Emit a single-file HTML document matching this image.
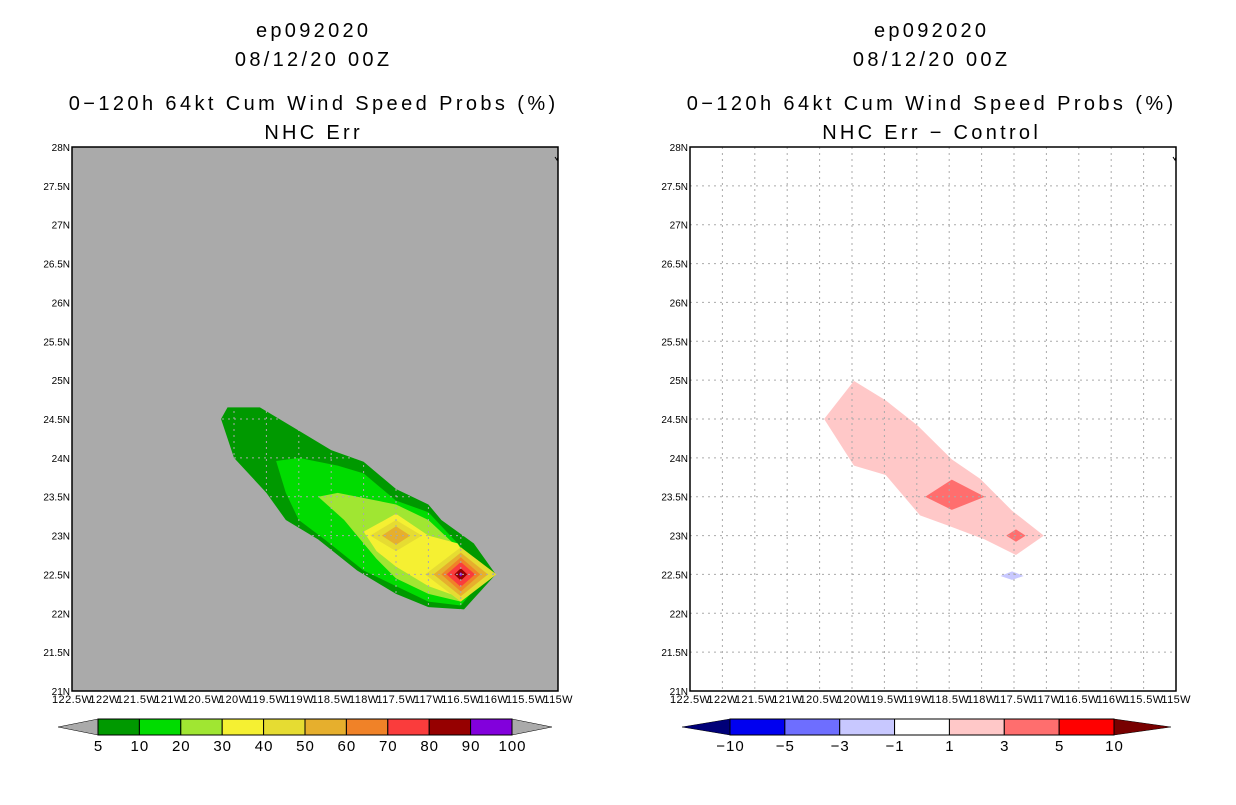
<!DOCTYPE html>
<html><head><meta charset="utf-8"><style>
body{margin:0;background:#fff;width:1236px;height:800px;overflow:hidden}
svg text{font-family:"Liberation Sans",sans-serif}
</style></head><body>
<svg id="root" width="1236" height="800" xmlns="http://www.w3.org/2000/svg"></svg>
<script>
// ---- data ----
const lonTicks=[-122.5,-122,-121.5,-121,-120.5,-120,-119.5,-119,-118.5,-118,-117.5,-117,-116.5,-116,-115.5,-115];
const latTicks=[21,21.5,22,22.5,23,23.5,24,24.5,25,25.5,26,26.5,27,27.5,28];
const leftLevels=['5','10','20','30','40','50','60','70','80','90','100'];
const leftColors=['#009900','#00dc00','#a0e632','#f5f032','#e6dc32','#e6af2d','#f08228','#fa3c3c','#960000','#8200dc'];
const rightLevels=['\u221210','\u22125','\u22123','\u22121','1','3','5','10'];
const rightColors=['#0000f0','#6e6eff','#c8c8ff','#ffffff','#ffc8c8','#ff6e6e','#ff0000'];
const rightEnds=['#000078','#780000'];
// contour polygons [lon,lat] with color index
const leftPolys=[
 {c:0,p:[[-120.1,24.65],[-119.6,24.65],[-119.1,24.4],[-118.5,24.1],[-118.0,23.95],[-117.5,23.6],[-117.0,23.4],[-116.8,23.2],[-116.3,22.9],[-115.96,22.5],[-116.45,22.05],[-117.0,22.08],[-117.5,22.25],[-118.1,22.55],[-118.7,22.95],[-119.2,23.2],[-119.5,23.55],[-120.0,24.0],[-120.2,24.5]]},
 {c:1,p:[[-119.35,23.96],[-119.0,24.0],[-118.4,23.9],[-118.0,23.8],[-117.5,23.45],[-117.0,23.3],[-116.55,22.9],[-116.1,22.5],[-116.5,22.1],[-117.0,22.15],[-117.5,22.35],[-118.0,22.55],[-118.6,22.95],[-119.0,23.2],[-119.2,23.55]]},
 {c:2,p:[[-118.7,23.5],[-118.4,23.55],[-117.5,23.4],[-117.0,23.2],[-116.55,22.85],[-116.2,22.5],[-116.5,22.15],[-117.0,22.25],[-117.5,22.45],[-117.8,22.7],[-118.1,23.0],[-118.3,23.2]]},
 {c:3,p:[[-118.0,23.05],[-117.5,23.28],[-117.0,23.0],[-116.55,22.9],[-116.25,22.5],[-116.5,22.2],[-117.0,22.35],[-117.5,22.6],[-117.8,22.8]]}
];
const leftDiamonds=[
 {c:4,lon:-117.5,lat:23.0,rx:0.4,ry:0.2},{c:5,lon:-117.5,lat:23.0,rx:0.22,ry:0.12},
 {c:4,lon:-116.5,lat:22.5,rx:0.55,ry:0.35},{c:5,lon:-116.5,lat:22.5,rx:0.42,ry:0.28},
 {c:6,lon:-116.5,lat:22.5,rx:0.3,ry:0.22},{c:7,lon:-116.5,lat:22.5,rx:0.22,ry:0.16},
 {c:8,lon:-116.5,lat:22.5,rx:0.1,ry:0.08},{c:9,lon:-116.5,lat:22.5,rx:0.03,ry:0.03}
];
const rightPolys=[
 {c:4,p:[[-120.43,24.5],[-119.97,24.99],[-119.48,24.74],[-118.98,24.41],[-118.46,23.98],[-118.02,23.73],[-117.53,23.32],[-117.04,23.0],[-117.47,22.75],[-117.95,22.95],[-118.49,23.12],[-118.95,23.26],[-119.48,23.78],[-119.97,23.9]]},
 {c:5,p:[[-118.87,23.5],[-118.46,23.72],[-117.95,23.5],[-118.46,23.33]]},
 {c:5,p:[[-117.62,23.0],[-117.47,23.08],[-117.32,23.0],[-117.47,22.92]]},
 {c:2,p:[[-117.71,22.48],[-117.53,22.54],[-117.35,22.48],[-117.53,22.43]]}
];
// ---- helpers ----
const NS='http://www.w3.org/2000/svg', root=document.getElementById('root');
function mk(t,a,parent){const e=document.createElementNS(NS,t);for(const k in a)e.setAttribute(k,a[k]);(parent||root).appendChild(e);return e;}
const PY0=147,PY1=691,PW=486;
function xs(x0){return lon=>x0+(lon+122.5)/7.5*PW;}
function ys(lat){return PY1-(lat-21)/7*(PY1-PY0);}
function txt(x,y,s,size,anchor,name,ls){const t=mk('text',{x:x,y:y,'font-size':size,'text-anchor':anchor||'middle',fill:'#000'});
if(ls){t.setAttribute('letter-spacing',ls);t.setAttribute('x',x+ls/2);}
t.textContent=s;

return t;}

function panel(x0,bg,polys,diamonds,colors,titles,pname){
 const X=xs(x0);
 const g=mk('g',{});
 
 
 const r=mk('rect',{x:x0,y:PY0,width:PW,height:PY1-PY0,fill:bg},g);
 
 
 polys.forEach(o=>{const pl=mk('polygon',{points:o.p.map(q=>X(q[0])+','+ys(q[1])).join(' '),fill:colors[o.c]},g);
  
  });
 diamonds.forEach(d=>{const pts=[[d.lon-d.rx,d.lat],[d.lon,d.lat+d.ry],[d.lon+d.rx,d.lat],[d.lon,d.lat-d.ry]];
  const pl=mk('polygon',{points:pts.map(q=>X(q[0])+','+ys(q[1])).join(' '),fill:colors[d.c]},g);
  
  });
 lonTicks.slice(1,-1).forEach(l=>{const ln=mk('line',{x1:X(l),x2:X(l),y1:PY0,y2:PY1,stroke:'#aaa','stroke-dasharray':'2,4'},g);
  
  });
 latTicks.slice(1,-1).forEach(l=>{const ln=mk('line',{x1:x0,x2:x0+PW,y1:ys(l),y2:ys(l),stroke:'#aaa','stroke-dasharray':'2,4'},g);
  
  });
 const b=mk('rect',{x:x0,y:PY0,width:PW,height:PY1-PY0,fill:'none',stroke:'#000','stroke-width':1.5},g);
 
 
 mk('path',{d:`M${x0+PW-3} ${PY0+10} l2 3 l1 -3`,stroke:'#000',fill:'none','stroke-width':1},g);
 latTicks.forEach(l=>{txt(x0-2,ys(l)+4,(l%1?l.toFixed(1):l)+'N',10,'end','y-tick-label');});
 lonTicks.forEach(l=>{txt(X(l),703,(-l%1?(-l).toFixed(1):-l)+'W',11,'middle','x-tick-label',0.4);});
 const cx=x0+PW/2;
 txt(cx-3,37,titles[0],20,'middle','title-storm',3.3);
 txt(cx-3,66,titles[1],20,'middle','title-date',3.3);
 txt(cx-3,110,titles[2],20,'middle','title-product',3.4);
 txt(cx-3,139,titles[3],20,'middle','title-subtitle',3.3);
}
panel(72,'#aaaaaa',leftPolys,leftDiamonds,leftColors,['ep092020','08/12/20 00Z','0\u2212120h 64kt Cum Wind Speed Probs (%)','NHC Err'],'left-panel');
panel(690,'#ffffff',rightPolys,[],rightColors,['ep092020','08/12/20 00Z','0\u2212120h 64kt Cum Wind Speed Probs (%)','NHC Err \u2212 Control'],'right-panel');

function colorbar(x0,x1,tl,tr,y0,y1,colors,endL,endR,labels,name){
 const g=mk('g',{});
 
 
 const w=(x1-x0)/colors.length, ym=(y0+y1)/2;
 const a=mk('polygon',{points:`${tl},${ym} ${x0},${y0} ${x0},${y1}`,fill:endL,stroke:'#000','stroke-width':0.5},g);
 
 
 const c=mk('polygon',{points:`${tr},${ym} ${x1},${y0} ${x1},${y1}`,fill:endR,stroke:'#000','stroke-width':0.5},g);
 
 
 colors.forEach((col,i)=>{const r=mk('rect',{x:x0+i*w,y:y0,width:w,height:y1-y0,fill:col,stroke:'#000','stroke-width':1},g);
  
  });
 labels.forEach((s,i)=>{txt(x0+i*w,y1+16,s,15,'middle','colorbar-label',1);});
}
colorbar(98,512,58,552,719,735,leftColors,'#aaaaaa','#aaaaaa',leftLevels,'left-colorbar');
colorbar(730,1114,682,1171,719,735,rightColors,rightEnds[0],rightEnds[1],rightLevels,'right-colorbar');
</script>
</body></html>
